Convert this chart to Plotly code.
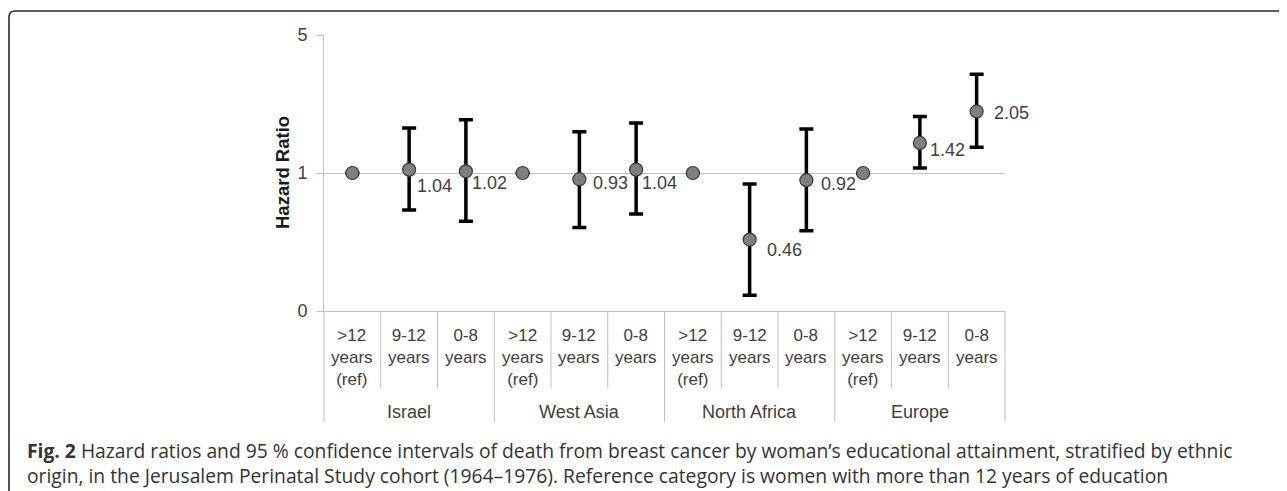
import math
import plotly.graph_objects as go

# ---------------- data ----------------
groups = ["Israel", "West Asia", "North Africa", "Europe"]
education = [">12<br>years<br>(ref)", "9-12<br>years", "0-8<br>years"]
hr = [1.00, 1.04, 1.02, 1.00, 0.93, 1.04, 1.00, 0.46, 0.92, 1.00, 1.42, 2.05]
ci_low = [None, 0.65, 0.57, None, 0.53, 0.62, None, 0.24, 0.51, None, 1.06, 1.35]
ci_high = [None, 1.69, 1.86, None, 1.62, 1.79, None, 0.88, 1.67, None, 1.93, 3.16]
hr_labels = ["", "1.04", "1.02", "", "0.93", "1.04", "", "0.46", "0.92", "", "1.42", "2.05"]
y_tick_vals = [0.2, 1, 5]
y_tick_text = ["0", "1", "5"]
caption_bold = "Fig. 2"
caption_line1 = (" Hazard ratios and 95 % confidence intervals of death from breast cancer by "
                 "woman\u2019s educational attainment, stratified by ethnic")
caption_line2 = ("origin, in the Jerusalem Perinatal Study cohort (1964\u20131976). Reference "
                 "category is women with more than 12 years of education")

# ---------------- style ----------------
label_dx = [0, 6, 4, 0, 12, 4, 0, 15, 13, 0, 8, 15]     # px right of point
label_dy = [0, 16, 12, 0, 4, 13, 0, 10, 4, 0, 7, 2]     # px below point
W, H = 1287, 491
OFF = 8                      # page body margin
# plot area in screen pixels
SL, SR, ST, SB = 324, 1005, 35, 311
L, R, T, B = SL - OFF, SR - OFF, ST - OFF, SB - OFF
GRID = "#c0c0c0"
TXT = "#404040"
FONT = "Liberation Sans, Arial, sans-serif"
CAP_FONT = "Open Sans, sans-serif"

n_sub = len(education)
n = len(groups) * n_sub
xs = list(range(n))
x_range = [-0.5, n - 0.5]


def pxx(px):
    return (px - SL) / (SR - SL)


def pxy(py):
    return (SB - py) / (SB - ST)


def x_to_paper(v):
    return (v - x_range[0]) / (x_range[1] - x_range[0])


err_plus = [None if h is None else h - v for v, h in zip(hr, ci_high)]
err_minus = [None if lo is None else v - lo for v, lo in zip(hr, ci_low)]

fig = go.Figure()
fig.add_trace(go.Scatter(
    x=xs, y=hr, mode="markers",
    marker=dict(size=13, color="#7f7f7f", line=dict(color="#3a3a3a", width=1.2)),
    error_y=dict(type="data", symmetric=False, array=err_plus, arrayminus=err_minus,
                 color="#000000", thickness=3.5, width=7),
    showlegend=False, hoverinfo="skip",
))

annotations = []
# data labels
for i, (v, lab) in enumerate(zip(hr, hr_labels)):
    if not lab:
        continue
    annotations.append(dict(
        x=xs[i], y=math.log10(v), xref="x", yref="y", text=lab, showarrow=False,
        xanchor="left", yanchor="middle", xshift=label_dx[i], yshift=-label_dy[i],
        font=dict(family=FONT, size=18, color=TXT),
    ))

# category labels
for g_i, g in enumerate(groups):
    for s_i, s in enumerate(education):
        idx = g_i * n_sub + s_i
        annotations.append(dict(
            x=xs[idx], y=pxy(324), xref="x", yref="paper", text=s, showarrow=False,
            xanchor="center", yanchor="top", align="center",
            font=dict(family=FONT, size=17, color=TXT),
        ))
    annotations.append(dict(
        x=g_i * n_sub + (n_sub - 1) / 2,
        y=pxy(411.5), xref="x", yref="paper", text=g, showarrow=False,
        xanchor="center", yanchor="middle",
        font=dict(family=FONT, size=18, color=TXT),
    ))

# y axis title
annotations.append(dict(
    x=pxx(282), y=0.5, xref="paper", yref="paper", text="<b>Hazard Ratio</b>",
    showarrow=False, textangle=-90, xanchor="center", yanchor="middle",
    font=dict(family=FONT, size=18.5, color="#1a1a1a"),
))

# caption (two lines in one text block)
annotations.append(dict(
    x=pxx(25), y=pxy(463), xref="paper", yref="paper",
    text="<b>" + caption_bold + "</b>" + caption_line1 + "<br>" + caption_line2,
    showarrow=False, xanchor="left", yanchor="middle", align="left",
    font=dict(family=CAP_FONT, size=19.3, color="#333333"),
))

shapes = []
# category dividers
for k in range(n + 1):
    b = x_range[0] + k
    is_group = (k % n_sub == 0)
    shapes.append(dict(
        type="line", xref="paper", yref="paper",
        x0=x_to_paper(b), x1=x_to_paper(b), y0=0, y1=pxy(422 if is_group else 388),
        line=dict(color=GRID, width=1),
    ))

# rounded frame (top-left corner)
fx, fy, rr = 9, 11, 6
path = ("M {a},{b} L {c},{d} Q {e},{f} {g},{h} L {i},{j}".format(
    a=pxx(fx), b=pxy(H + 20), c=pxx(fx), d=pxy(fy + rr), e=pxx(fx), f=pxy(fy),
    g=pxx(fx + rr), h=pxy(fy), i=pxx(W + 20), j=pxy(fy)))
shapes.append(dict(type="path", xref="paper", yref="paper", path=path,
                   line=dict(color="#2b2b2b", width=1.6)))

fig.update_layout(
    width=W, height=H,
    margin=dict(l=L, r=W - R, t=T, b=H - B, pad=0),
    paper_bgcolor="white", plot_bgcolor="white",
    font=dict(family=FONT, color=TXT),
    xaxis=dict(range=x_range, showgrid=False, zeroline=False, showticklabels=False,
               ticks="", showline=True, linecolor=GRID, linewidth=1, fixedrange=True),
    yaxis=dict(type="log", range=[math.log10(min(y_tick_vals)), math.log10(max(y_tick_vals)) + 1e-6],
               tickvals=y_tick_vals, ticktext=y_tick_text, ticks="outside", ticklen=7,
               tickcolor=GRID, showgrid=True, gridcolor=GRID, gridwidth=1,
               showline=True, linecolor=GRID, linewidth=1, zeroline=False,
               ticklabelstandoff=5,
               tickfont=dict(family=FONT, size=18, color=TXT), fixedrange=True),
    annotations=annotations,
    shapes=shapes,
)

fig.write_html("out.html")
